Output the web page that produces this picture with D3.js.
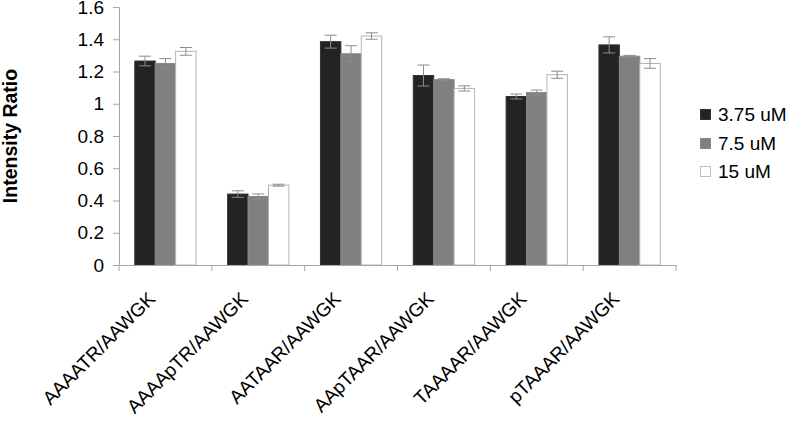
<!DOCTYPE html>
<html>
<head>
<meta charset="utf-8">
<script src="https://cdn.jsdelivr.net/npm/d3@7/dist/d3.min.js"></script>
<style>
  html, body { margin: 0; padding: 0; background: #fff; }
  svg { display: block; font-family: "Liberation Sans", Arial, sans-serif; }
</style>
</head>
<body>
<svg id="chart" width="787" height="421"></svg>
<script>
const categories = ["AAAATR/AAWGK", "AAAApTR/AAWGK", "AATAAR/AAWGK", "AApTAAR/AAWGK", "TAAAAR/AAWGK", "pTAAAR/AAWGK"];
const seriesNames = ["3.75 uM", "7.5 uM", "15 uM"];
const values375 = [1.265, 0.44, 1.385, 1.175, 1.045, 1.365];
const values75  = [1.25, 0.425, 1.31, 1.15, 1.07, 1.295];
const values15  = [1.325, 0.495, 1.42, 1.095, 1.18, 1.25];
const errors375 = [0.03, 0.02, 0.04, 0.065, 0.015, 0.05];
const errors75  = [0.03, 0.016, 0.05, 0.005, 0.015, 0.005];
const errors15  = [0.024, 0.006, 0.02, 0.016, 0.022, 0.03];
const yTicks = [0, 0.2, 0.4, 0.6, 0.8, 1, 1.2, 1.4, 1.6];

const seriesValues = [values375, values75, values15];
const seriesErrors = [errors375, errors75, errors15];
const fills = ["#232323", "#808080", "#ffffff"];
const strokes = ["#333333", "#8a8a8a", "#b4b4b4"];

const svg = d3.select("#chart");
svg.append("rect").attr("width", 787).attr("height", 421).attr("fill", "#fff");

const mLeft = 119, mRight = 676, mTop = 7, mBottom = 265;

const x0 = d3.scaleBand().domain(categories).range([mLeft, mRight]).paddingInner(0.34).paddingOuter(0.17);
const x1 = d3.scaleBand().domain(seriesNames).range([0, x0.bandwidth()]);
const y = d3.scaleLinear().domain([0, 1.6]).range([mBottom, mTop]);

const axisColor = "#a6a6a6";

// Y axis
const yAxis = svg.append("g").attr("transform", `translate(${mLeft},0)`)
  .call(d3.axisLeft(y).tickValues(yTicks).tickSize(6).tickPadding(9)
        .tickFormat(d => String(+d.toFixed(1))));
yAxis.select(".domain").attr("stroke", axisColor);
yAxis.selectAll(".tick line").attr("stroke", axisColor);
yAxis.selectAll(".tick text").attr("fill", "#000").style("font-size", "19px")
  .style("font-family", "'Liberation Sans', Arial, sans-serif");

// Bars
const data = [];
categories.forEach((c, i) => {
  seriesNames.forEach((s, j) => {
    data.push({ cat: c, ser: s, j: j, v: seriesValues[j][i], e: seriesErrors[j][i] });
  });
});

const g = svg.append("g");
g.selectAll("rect.bar").data(data).enter().append("rect")
  .attr("class", "bar")
  .attr("x", d => x0(d.cat) + x1(d.ser))
  .attr("y", d => y(d.v))
  .attr("width", x1.bandwidth())
  .attr("height", d => y(0) - y(d.v))
  .attr("fill", d => fills[d.j])
  .attr("stroke", d => strokes[d.j])
  .attr("stroke-width", 1);

// Error bars
const errColor = "#8c8c8c";
const capHalf = 6;
const eg = g.selectAll("g.err").data(data).enter().append("g").attr("class", "err")
  .attr("stroke", errColor).attr("stroke-width", 1);
eg.append("line")
  .attr("x1", d => x0(d.cat) + x1(d.ser) + x1.bandwidth() / 2)
  .attr("x2", d => x0(d.cat) + x1(d.ser) + x1.bandwidth() / 2)
  .attr("y1", d => y(d.v + d.e)).attr("y2", d => y(d.v - d.e));
eg.append("line")
  .attr("x1", d => x0(d.cat) + x1(d.ser) + x1.bandwidth() / 2 - capHalf)
  .attr("x2", d => x0(d.cat) + x1(d.ser) + x1.bandwidth() / 2 + capHalf)
  .attr("y1", d => y(d.v + d.e)).attr("y2", d => y(d.v + d.e));
eg.append("line")
  .attr("x1", d => x0(d.cat) + x1(d.ser) + x1.bandwidth() / 2 - capHalf)
  .attr("x2", d => x0(d.cat) + x1(d.ser) + x1.bandwidth() / 2 + capHalf)
  .attr("y1", d => y(d.v - d.e)).attr("y2", d => y(d.v - d.e));

// X axis
const xAxis = svg.append("g").attr("transform", `translate(0,${mBottom})`)
  .call(d3.axisBottom(x0).tickSize(0).tickFormat(""));
xAxis.select(".domain").attr("stroke", axisColor);
const boundaries = d3.range(categories.length + 1).map(i => mLeft + i * x0.step());
xAxis.selectAll("line.bnd").data(boundaries).enter().append("line")
  .attr("class", "bnd")
  .attr("x1", d => d).attr("x2", d => d)
  .attr("y1", 0).attr("y2", 6)
  .attr("stroke", axisColor);

// Category labels (rotated)
svg.append("g").selectAll("text").data(categories).enter().append("text")
  .attr("transform", d => `translate(${x0(d) + x0.bandwidth() / 2 - 9},${mBottom + 35}) rotate(-45)`)
  .attr("text-anchor", "end")
  .style("font-size", "19px")
  .attr("fill", "#000")
  .text(d => d);

// Y axis title
svg.append("text")
  .attr("transform", `translate(${17},${(mTop + mBottom) / 2}) rotate(-90)`)
  .attr("text-anchor", "middle")
  .style("font-size", "19.5px")
  .style("font-weight", "bold")
  .text("Intensity Ratio");

// Legend
const legendY = [121, 150, 178];
const lg = svg.append("g").selectAll("g").data(seriesNames).enter().append("g");
lg.append("rect")
  .attr("x", 700.5).attr("y", (d, i) => legendY[i] - 11.5)
  .attr("width", 10).attr("height", 10)
  .attr("fill", (d, i) => fills[i])
  .attr("stroke", (d, i) => i === 2 ? "#bdbdbd" : strokes[i]);
lg.append("text")
  .attr("x", 718).attr("y", (d, i) => legendY[i])
  .style("font-size", "19px")
  .text(d => d);
</script>
</body>
</html>
